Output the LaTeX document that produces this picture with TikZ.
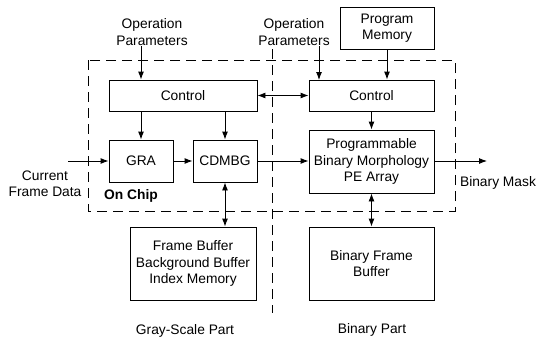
\documentclass[tikz,border=0pt]{standalone}
\usepackage{fontspec}
\setmainfont{Liberation Sans}
\usetikzlibrary{arrows.meta}
\begin{document}
\begin{tikzpicture}[x=1pt,y=-1pt,
  font=\fontsize{13.8}{16.3}\selectfont,
  blk/.style={draw,line width=0.9pt,rectangle,inner sep=0pt,align=center},
  lbl/.style={inner sep=1pt,align=center},
  arr/.style={line width=0.9pt,-{Latex[length=8pt,width=6pt]}},
  darr/.style={line width=0.9pt,{Latex[length=8pt,width=6pt]}-{Latex[length=8pt,width=6pt]}},
  region/.style={line width=0.9pt,dash pattern=on 10pt off 6pt}]
\useasboundingbox (0,0) rectangle (537,343);

% on-chip boundary and the gray-scale / binary divider
\draw[region] (88,60) rectangle (455,211);
\draw[region] (272,49) -- (272,313);

% blocks
\node[blk,minimum width=148pt,minimum height=31pt] (ctlL) at (183,95.5) {Control};
\node[blk,minimum width=64pt,minimum height=42pt] (gra) at (141,161) {GRA};
\node[blk,minimum width=64pt,minimum height=42pt] (cdmbg) at (225,161) {CDMBG};
\node[blk,minimum width=125pt,minimum height=31pt] (ctlR) at (371.5,95.5) {Control};
\node[blk,minimum width=94pt,minimum height=42pt] (pm) at (387,28) {Program\\Memory};
\node[blk,minimum width=125pt,minimum height=63pt] (pe) at (371.5,161.5) {Programmable\\Binary Morphology\\PE Array};
\node[blk,minimum width=126pt,minimum height=73pt] (fb) at (193,263.5) {Frame Buffer\\Background Buffer\\Index Memory};
\node[blk,minimum width=125pt,minimum height=73pt] (bfb) at (371.5,263.5) {Binary Frame\\Buffer};

% labels
\node[lbl] (opL) at (152,32) {Operation\\Parameters};
\node[lbl] (opR) at (294,32) {Operation\\Parameters};
\node[lbl] (cfd) at (45,184) {Current\\Frame Data};
\node[lbl] (bm) at (498,183) {Binary Mask};
\node[lbl,font=\fontsize{13.8}{16.3}\selectfont\bfseries] (chip) at (131,196) {On Chip};
\node[lbl] (gsp) at (185,331) {Gray-Scale Part};
\node[lbl] (bp) at (372,330) {Binary Part};

% free ends
\coordinate (cfdIn) at (68,161);
\coordinate (bmOut) at (487,161);
\coordinate (opRin) at (319,80);

% connectors
\draw[arr] (opL.south -| gra.north) -- (ctlL.north -| gra.north);
\draw[arr] (opRin |- opR.south) -- (opRin);
\draw[arr] (pm.south) -- (pm.south |- ctlR.north);
\draw[darr] (ctlL.east) -- (ctlR.west);
\draw[arr] (ctlL.south -| gra.north) -- (gra.north);
\draw[arr] (ctlL.south -| cdmbg.north) -- (cdmbg.north);
\draw[arr] (ctlR.south -| pe.north) -- (pe.north);
\draw[arr] (cfdIn) -- (gra.west);
\draw[arr] (gra.east) -- (cdmbg.west);
\draw[arr] (cdmbg.east) -- (cdmbg.east -| pe.west);
\draw[arr] (pe.east |- bmOut) -- (bmOut);
\draw[darr] (cdmbg.south) -- (cdmbg.south |- fb.north);
\draw[darr] (pe.south) -- (bfb.north);
\end{tikzpicture}
\end{document}
